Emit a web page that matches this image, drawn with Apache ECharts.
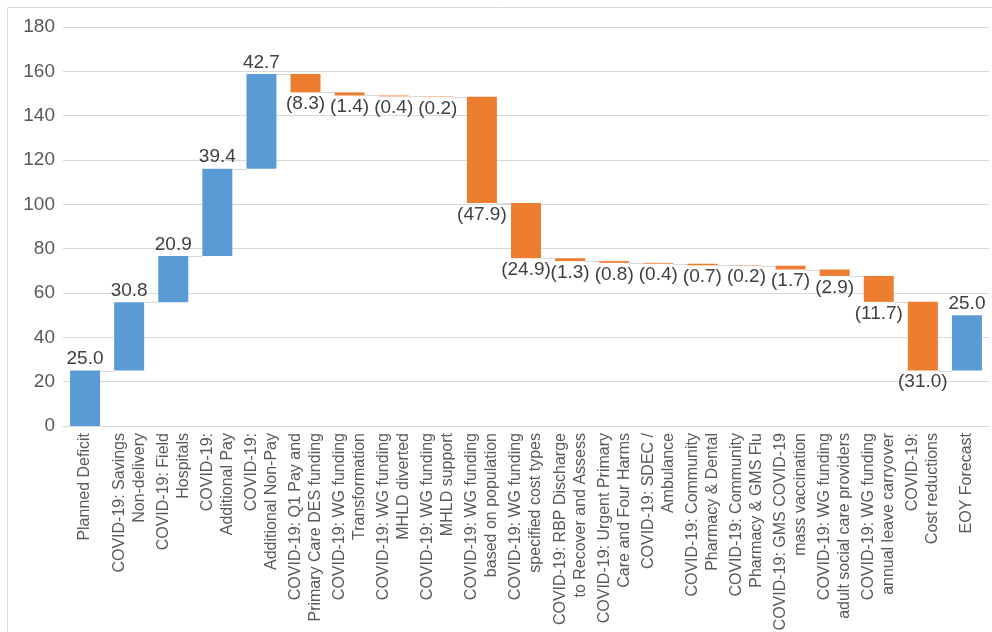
<!DOCTYPE html>
<html>
<head>
<meta charset="utf-8">
<script src="https://cdn.jsdelivr.net/npm/echarts@6/dist/echarts.min.js"></script>
<style>
  html, body { margin: 0; padding: 0; background: #fff; }
  #chart { width: 992px; height: 632px; }
</style>
</head>
<body>
<div id="chart"></div>
<script>
// 类目
var categories = [
  'Planned Deficit',
  'COVID-19: Savings\nNon-delivery',
  'COVID-19: Field\nHospitals',
  'COVID-19:\nAdditional Pay',
  'COVID-19:\nAdditional Non-Pay',
  'COVID-19: Q1 Pay and\nPrimary Care DES funding',
  'COVID-19: WG funding\nTransformation',
  'COVID-19: WG funding\nMHLD diverted',
  'COVID-19: WG funding\nMHLD support',
  'COVID-19: WG funding\nbased on population',
  'COVID-19: WG funding\nspecified cost types',
  'COVID-19: RBP Discharge\nto Recover and Assess',
  'COVID-19: Urgent Primary\nCare and Four Harms',
  'COVID-19: SDEC /\nAmbulance',
  'COVID-19: Community\nPharmacy & Dental',
  'COVID-19: Community\nPharmacy & GMS Flu',
  'COVID-19: GMS COVID-19\nmass vaccination',
  'COVID-19: WG funding\nadult social care providers',
  'COVID-19: WG funding\nannual leave carryover',
  'COVID-19:\nCost reductions',
  'EOY Forecast'
];
// 每一步的增减值
var changes = [25.0, 30.8, 20.9, 39.4, 42.7, -8.3, -1.4, -0.4, -0.2, -47.9, -24.9,
  -1.3, -0.8, -0.4, -0.7, -0.2, -1.7, -2.9, -11.7, -31.0, 25.0];
// y轴刻度
var yTicks = [0, 20, 40, 60, 80, 100, 120, 140, 160, 180];

var blue = '#5B9BD5';
var orange = '#ED7D31';
var font = 'Liberation Sans, Arial, sans-serif';

// 计算瀑布图的透明底座和可见部分
var baseData = [];
var barData = [];
var connData = [];
var running = 0;
changes.forEach(function (v, i) {
  var next = running + v;
  baseData.push(Math.min(running, next));
  barData.push({
    value: Math.abs(v),
    raw: v,
    itemStyle: { color: v >= 0 ? blue : orange },
    label: { position: v >= 0 ? 'top' : 'bottom' }
  });
  connData.push([i, next]);
  running = next;
});
connData.pop();

var myChart = echarts.init(document.getElementById('chart'));
var option = {
  animation: false,
  textStyle: { fontFamily: font },
  graphic: [{
    type: 'rect',
    shape: { x: 7.5, y: 7.5, width: 1000, height: 660 },
    style: { fill: null, stroke: '#d9d9d9', lineWidth: 1 },
    silent: true,
    z: -10
  }],
  grid: { left: 63, right: 3, top: 27, bottom: 206, outerBoundsMode: 'none' },
  xAxis: {
    type: 'category',
    data: categories,
    axisTick: { show: false },
    axisLine: { lineStyle: { color: '#d9d9d9' } },
    axisLabel: {
      interval: 0,
      rotate: 90,
      margin: 7,
      fontSize: 16,
      lineHeight: 20,
      color: '#595959',
      fontFamily: font
    }
  },
  yAxis: {
    type: 'value',
    min: yTicks[0],
    max: yTicks[yTicks.length - 1],
    interval: 20,
    axisLine: { show: false },
    axisTick: { show: false },
    axisLabel: { fontSize: 19, color: '#595959', margin: 8, fontFamily: font },
    splitLine: { lineStyle: { color: '#d9d9d9' } }
  },
  series: [{
    type: 'bar',
    stack: 'w',
    data: baseData,
    barWidth: 30,
    itemStyle: { color: 'transparent' },
    silent: true
  }, {
    type: 'bar',
    stack: 'w',
    data: barData,
    barWidth: 30,
    label: {
      show: true,
      distance: 2,
      fontSize: 19,
      color: '#404040',
      fontFamily: font,
      formatter: function (p) {
        var v = p.data.raw;
        return v >= 0 ? v.toFixed(1) : '(' + Math.abs(v).toFixed(1) + ')';
      }
    }
  }, {
    // 连接线
    type: 'custom',
    data: connData,
    z: 1,
    silent: true,
    renderItem: function (params, api) {
      var i = api.value(0);
      var lvl = api.value(1);
      var p1 = api.coord([i, lvl]);
      var p2 = api.coord([i + 1, lvl]);
      var y = Math.round(p1[1]) + 0.5;
      return {
        type: 'line',
        shape: { x1: p1[0] + 15, y1: y, x2: p2[0] - 15, y2: y },
        style: { stroke: '#d9d9d9', lineWidth: 1 }
      };
    }
  }]
};
myChart.setOption(option);
</script>
</body>
</html>
